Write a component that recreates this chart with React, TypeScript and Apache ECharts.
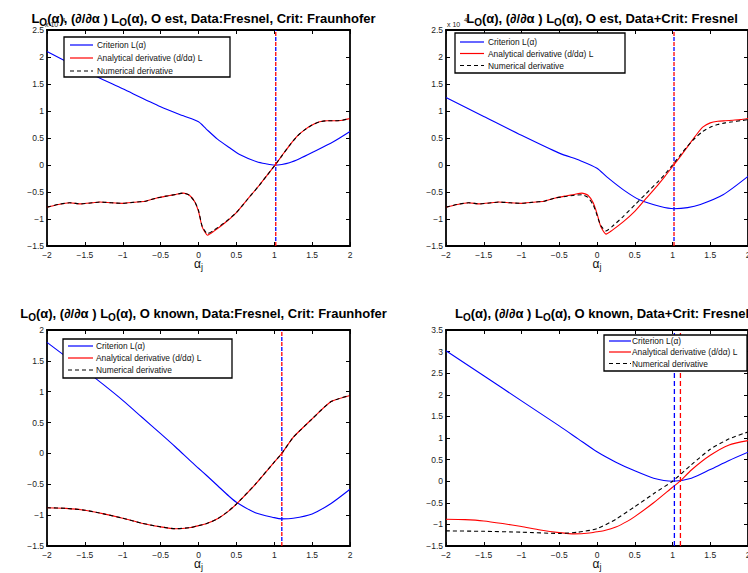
import React, { useEffect, useRef } from 'react';
import * as echarts from 'echarts';

// ---------- data ----------
const X_MIN = -2;
const X_MAX = 2;

// top-left: O est, Data:Fresnel, Crit: Fraunhofer
const tlCritX = [-2, -1.5, -1, -0.5, -0.2, 0, 0.1, 0.25, 0.4, 0.55, 0.77, 0.9, 1.0, 1.1, 1.2, 1.34, 1.5, 1.78, 2];
const tlCrit = [2.1, 1.74, 1.41, 1.08, 0.91, 0.8, 0.67, 0.48, 0.33, 0.19, 0.06, 0.02, 0.0, 0.01, 0.04, 0.12, 0.23, 0.43, 0.62];
const derX = [-2, -1.85, -1.7, -1.55, -1.4, -1.3, -1.15, -1.0, -0.85, -0.7, -0.55, -0.4, -0.3, -0.2, -0.12, -0.05, 0, 0.05, 0.12, 0.2, 0.35, 0.5, 0.65, 0.8, 0.9, 1.0, 1.1, 1.2, 1.3, 1.4, 1.5, 1.6, 1.7, 1.8, 1.9, 2.0];
const tlAnal = [-0.78, -0.73, -0.7, -0.72, -0.7, -0.685, -0.7, -0.71, -0.69, -0.67, -0.61, -0.57, -0.545, -0.52, -0.56, -0.68, -0.86, -1.15, -1.3, -1.23, -1.07, -0.88, -0.63, -0.38, -0.2, -0.02, 0.17, 0.36, 0.53, 0.65, 0.74, 0.8, 0.82, 0.82, 0.83, 0.86];
const tlNum = [-0.78, -0.73, -0.7, -0.72, -0.7, -0.685, -0.7, -0.71, -0.69, -0.67, -0.61, -0.57, -0.545, -0.52, -0.56, -0.68, -0.84, -1.14, -1.27, -1.21, -1.06, -0.88, -0.63, -0.38, -0.2, -0.02, 0.17, 0.36, 0.53, 0.65, 0.74, 0.8, 0.82, 0.82, 0.83, 0.86];
const tlMinCrit = 1.02;
const tlZeroDer = 1.02;

// top-right: O est, Data+Crit: Fresnel
const trCritX = [-2, -1.5, -1, -0.5, -0.22, 0, 0.13, 0.35, 0.57, 0.84, 1.02, 1.2, 1.37, 1.67, 2];
const trCrit = [1.25, 0.9, 0.55, 0.22, 0.08, -0.06, -0.22, -0.46, -0.65, -0.77, -0.81, -0.79, -0.73, -0.55, -0.21];
const trAnal = [-0.78, -0.73, -0.7, -0.72, -0.7, -0.685, -0.7, -0.71, -0.69, -0.67, -0.61, -0.57, -0.545, -0.52, -0.56, -0.7, -0.9, -1.14, -1.28, -1.21, -1.05, -0.86, -0.62, -0.38, -0.21, -0.03, 0.15, 0.34, 0.53, 0.7, 0.78, 0.81, 0.82, 0.83, 0.84, 0.86];
const trNum = [-0.78, -0.73, -0.7, -0.72, -0.7, -0.685, -0.7, -0.71, -0.69, -0.67, -0.61, -0.58, -0.56, -0.55, -0.6, -0.74, -0.93, -1.12, -1.22, -1.14, -0.95, -0.74, -0.53, -0.32, -0.17, 0.0, 0.18, 0.35, 0.5, 0.62, 0.7, 0.75, 0.78, 0.8, 0.82, 0.84];
const trMinCrit = 1.02;
const trZeroDer = 1.02;

// bottom-left: O known, Data:Fresnel, Crit: Fraunhofer
const blX = [-2, -1.75, -1.5, -1.25, -1, -0.75, -0.5, -0.3, -0.1, 0, 0.1, 0.25, 0.4, 0.5, 0.75, 1.0, 1.1, 1.25, 1.5, 1.75, 2];
const blCrit = [1.8, 1.57, 1.35, 1.11, 0.86, 0.59, 0.32, 0.1, -0.13, -0.24, -0.35, -0.52, -0.69, -0.79, -0.96, -1.04, -1.06, -1.05, -0.98, -0.81, -0.58];
const blAnal = [-0.88, -0.89, -0.92, -0.98, -1.05, -1.13, -1.19, -1.22, -1.2, -1.17, -1.14, -1.06, -0.93, -0.82, -0.5, -0.14, 0.0, 0.26, 0.56, 0.84, 0.94];
const blNum = [-0.88, -0.89, -0.92, -0.98, -1.05, -1.13, -1.19, -1.22, -1.2, -1.17, -1.14, -1.06, -0.93, -0.82, -0.5, -0.14, 0.0, 0.26, 0.56, 0.84, 0.94];
const blMinCrit = 1.1;
const blZeroDer = 1.1;

// bottom-right: O known, Data+Crit: Fresnel
const brX = [-2, -1.5, -1, -0.5, -0.25, 0, 0.25, 0.5, 0.75, 1.0, 1.25, 1.5, 1.75, 2];
const brCrit = [3.02, 2.44, 1.86, 1.28, 0.98, 0.68, 0.44, 0.24, 0.07, 0.0, 0.07, 0.27, 0.48, 0.67];
const brAnalX = [-2, -1.75, -1.5, -1.25, -1, -0.75, -0.5, -0.3, -0.1, 0, 0.1, 0.25, 0.4, 0.5, 0.75, 1.0, 1.1, 1.25, 1.5, 1.75, 2];
const brAnal = [-0.88, -0.89, -0.92, -0.98, -1.05, -1.13, -1.19, -1.22, -1.2, -1.17, -1.14, -1.06, -0.93, -0.82, -0.5, -0.14, 0.0, 0.26, 0.6, 0.84, 0.94];
const brNum = [-1.15, -1.16, -1.18, -1.21, -1.18, -1.1, -0.88, -0.59, -0.29, 0.0, 0.38, 0.74, 0.98, 1.14];
const brMinCrit = 1.025;
const brZeroDer = 1.105;

const titles = [
  'O est, Data:Fresnel, Crit: Fraunhofer',
  'O est, Data+Crit: Fresnel',
  'O known, Data:Fresnel, Crit: Fraunhofer',
  'O known, Data+Crit: Fresnel',
];
const yRanges = [
  [-1.5, 2.5],
  [-1.5, 2.5],
  [-1.5, 2],
  [-1.5, 3.5],
];
const legendNames = ['Criterion L(α)', 'Analytical derivative (d/dα) L', 'Numerical derivative'];

// ---------- layout ----------
const FONT = '"Liberation Sans", Arial, Helvetica, sans-serif';
const grids = [
  { left: 47, top: 30, width: 303, height: 216 },
  { left: 446, top: 30, width: 302, height: 216 },
  { left: 47, top: 330, width: 303, height: 216 },
  { left: 446, top: 330, width: 302, height: 216 },
];
const legendBoxes = [
  { box: [64, 37, 166, 40], rows: [45, 58, 71], line: [70, 93], text: 97 },
  { box: [455, 33, 170, 40], rows: [42, 53.5, 65.5], line: [460, 484], text: 488 },
  { box: [63, 339, 169, 39], rows: [346, 358, 370], line: [68, 93], text: 96 },
  { box: [604, 335, 143, 36], rows: [341, 352, 363.5], line: [609, 631], text: 632 },
];

const zip = (xs: number[], ys: number[]) => xs.map((x, i) => [x, ys[i]]);
const fmt = (v: number) => String(v).replace('-', '\u2212');

function buildOption() {
  const curves = [
    { cx: tlCritX, c: tlCrit, ax: derX, a: tlAnal, nx: derX, n: tlNum, vb: tlMinCrit, vr: tlZeroDer },
    { cx: trCritX, c: trCrit, ax: derX, a: trAnal, nx: derX, n: trNum, vb: trMinCrit, vr: trZeroDer },
    { cx: blX, c: blCrit, ax: blX, a: blAnal, nx: blX, n: blNum, vb: blMinCrit, vr: blZeroDer },
    { cx: brX, c: brCrit, ax: brAnalX, a: brAnal, nx: brX, n: brNum, vb: brMinCrit, vr: brZeroDer },
  ];

  const xAxis: any[] = [];
  const yAxis: any[] = [];
  const series: any[] = [];
  const title: any[] = [];
  const graphic: any[] = [];

  grids.forEach((g, i) => {
    const [ymin, ymax] = yRanges[i];
    const axisLine = { show: true, onZero: false, lineStyle: { color: '#000', width: 1.8 } };
    const axisTick = { show: true, inside: true, length: 4, lineStyle: { color: '#000', width: 1 } };
    xAxis.push({
      gridIndex: i, type: 'value', position: 'bottom', min: X_MIN, max: X_MAX, interval: 0.5,
      axisLine, axisTick, splitLine: { show: false },
      axisLabel: { fontSize: 8.5, color: '#222', margin: 4, fontFamily: FONT, formatter: fmt },
      name: '{a|α}{j|j}', nameLocation: 'middle', nameGap: 10, nameMoveOverlap: false,
      nameTextStyle: {
        rich: {
          a: { fontSize: 12, fontFamily: FONT, color: '#111' },
          j: { fontSize: 9, fontFamily: FONT, color: '#111', padding: [6, 0, 0, 0] },
        },
      },
    });
    xAxis.push({
      gridIndex: i, type: 'value', position: 'top', min: X_MIN, max: X_MAX, interval: 0.5,
      axisLine, axisTick, splitLine: { show: false }, axisLabel: { show: false },
    });
    yAxis.push({
      gridIndex: i, type: 'value', position: 'left', min: ymin, max: ymax, interval: 0.5,
      axisLine, axisTick, splitLine: { show: false },
      axisLabel: { fontSize: 8.5, color: '#222', margin: 3, fontFamily: FONT, formatter: fmt },
    });
    yAxis.push({
      gridIndex: i, type: 'value', position: 'right', min: ymin, max: ymax, interval: 0.5,
      axisLine, axisTick, splitLine: { show: false }, axisLabel: { show: false },
    });

    const c = curves[i];
    const base = { type: 'line', xAxisIndex: 2 * i, yAxisIndex: 2 * i, showSymbol: false, symbol: 'none', silent: true };
    series.push({ ...base, name: legendNames[0], data: zip(c.cx, c.c), smooth: 0.25, lineStyle: { color: '#0000ff', width: 1.1 } });
    series.push({ ...base, name: legendNames[1], data: zip(c.ax, c.a), smooth: 0.2, lineStyle: { color: '#ff0000', width: 1.1 } });
    series.push({ ...base, name: legendNames[2], data: zip(c.nx, c.n), smooth: 0.2, lineStyle: { color: '#000', width: 1.1, type: [4, 3] } });
    const same = c.vb === c.vr;
    series.push({ ...base, name: 'zero of derivative', data: [[c.vr, ymin], [c.vr, ymax]], lineStyle: { color: '#ff0000', width: 1.3, type: same ? [4, 6] : [5, 3] } });
    series.push({ ...base, name: 'minimum of criterion', data: [[c.vb, ymin], [c.vb, ymax]], lineStyle: { color: '#0000ff', width: 1.3, type: same ? [4, 6] : [5, 3], dashOffset: same ? 5 : 0 } });

    title.push({
      text: `{b|L}{o|O}{b|(α), (∂/∂α ) L}{o|O}{b|(α), ${titles[i]}}`,
      left: g.left + g.width / 2, top: i < 2 ? 4 : 299, textAlign: 'center',
      textStyle: {
        rich: {
          b: { fontSize: 13, fontWeight: 'bold', fontFamily: FONT, color: '#000' },
          o: { fontSize: 10, fontWeight: 'bold', fontFamily: FONT, color: '#000', padding: [8, 0, 0, 0] },
        },
      },
    });

    const L = legendBoxes[i];
    const [bx, by, bw, bh] = L.box;
    graphic.push({ type: 'rect', z: 50, shape: { x: bx, y: by, width: bw, height: bh }, style: { fill: '#fff', stroke: '#000', lineWidth: 1.3 } });
    const cols = ['#0000ff', '#ff0000', '#000'];
    L.rows.forEach((ry, k) => {
      graphic.push({
        type: 'line', z: 51, shape: { x1: L.line[0], y1: ry, x2: L.line[1], y2: ry },
        style: { stroke: cols[k], lineWidth: 1.2, lineDash: k === 2 ? [4, 3] : null },
      });
      graphic.push({
        type: 'text', z: 51, x: L.text, y: ry,
        style: { text: legendNames[k], fontSize: 8.4, fontFamily: FONT, fill: '#111', verticalAlign: 'middle', align: 'left' },
      });
    });
  });

  // exponent labels for the top plots
  [[45, 24], [447, 24]].forEach(([ex, ey]) => {
    graphic.push({ type: 'text', z: 1, x: ex, y: ey, style: { text: 'x 10', fontSize: 7, fontFamily: FONT, fill: '#222', verticalAlign: 'middle' } });
    graphic.push({ type: 'text', z: 1, x: ex + 17, y: ey - 4, style: { text: '4', fontSize: 6, fontFamily: FONT, fill: '#222', verticalAlign: 'middle' } });
  });

  return {
    animation: false,
    backgroundColor: '#fff',
    textStyle: { fontFamily: FONT },
    grid: grids.map((g) => ({ ...g, containLabel: false, show: false })),
    title,
    xAxis,
    yAxis,
    series,
    graphic,
  };
}

export default function App() {
  const ref = useRef<HTMLDivElement>(null);
  useEffect(() => {
    if (!ref.current) return;
    const chart = echarts.init(ref.current, undefined, { renderer: 'svg' });
    chart.setOption(buildOption() as any);
    return () => chart.dispose();
  }, []);
  return (
    <div style={{ position: 'fixed', left: 0, top: 0, width: 748, height: 573, overflow: 'hidden', background: '#fff' }}>
      <div ref={ref} style={{ width: 800, height: 573 }} />
    </div>
  );
}
